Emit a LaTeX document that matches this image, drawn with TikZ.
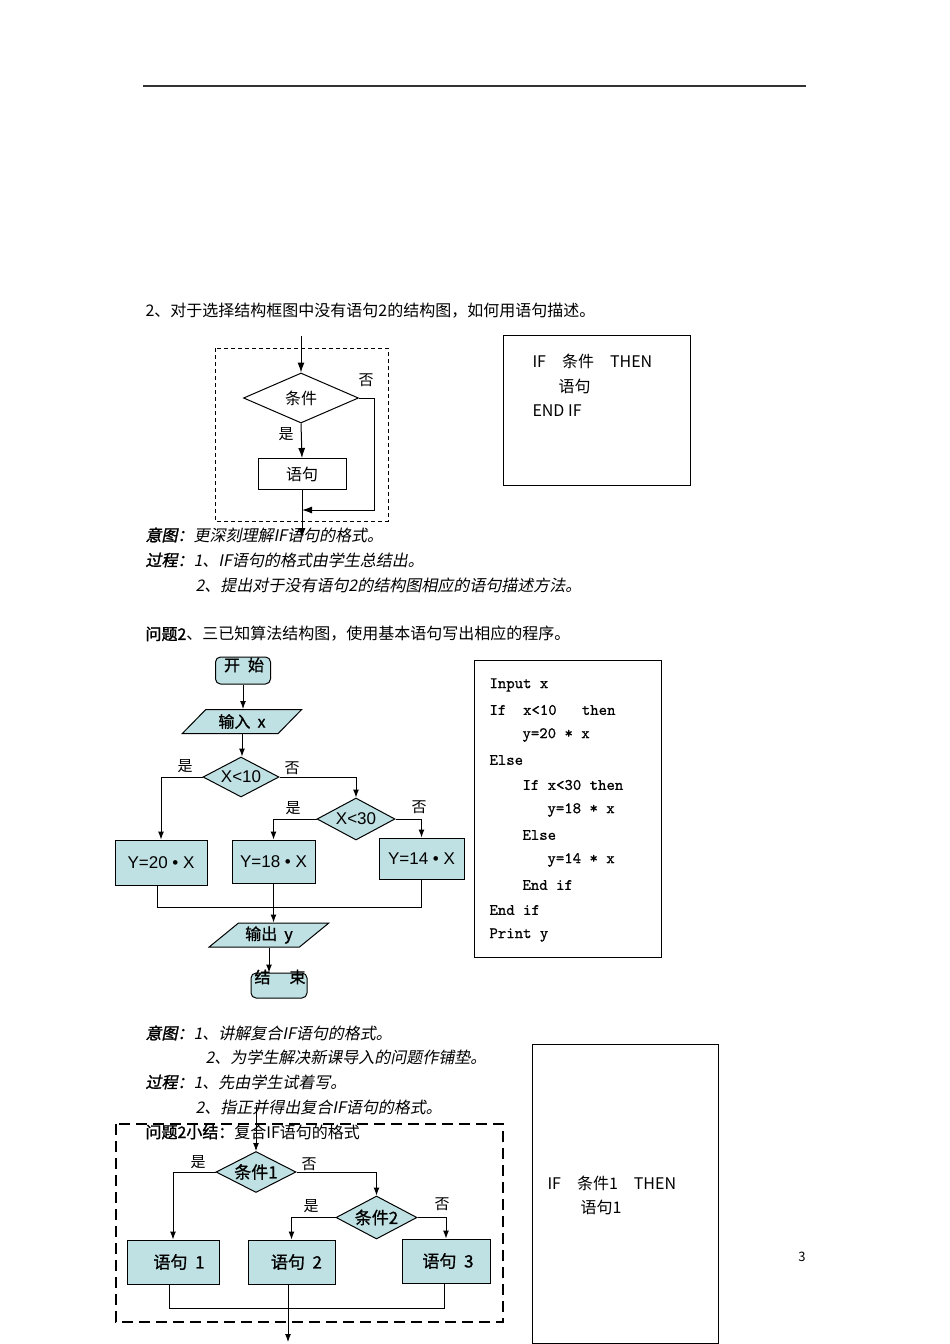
\documentclass[tikz,border=0pt]{standalone}
\usepackage{fontspec}
\setmainfont{Noto Sans CJK SC}
\newfontfamily\boldcjk[FakeBold=1.5]{Noto Sans CJK SC}
\newfontfamily\slantcjk[FakeSlant=0.2]{Noto Sans CJK SC}
\newfontfamily\slantboldcjk[FakeSlant=0.2,FakeBold=1.5]{Noto Sans CJK SC}
\newfontfamily\flowfont[FakeBold=1]{Noto Sans CJK SC}
\newfontfamily\labelfont{Liberation Sans}
\newfontfamily\codefont[FakeBold=0.7]{lmmono10-regular.otf}
\usetikzlibrary{arrows.meta,shapes.geometric}
\definecolor{boxteal}{RGB}{192,225,227}
\tikzset{every picture/.style={line width=1pt}}

\begin{document}
\begin{tikzpicture}[x=1pt,y=-1pt,>={Latex[length=8pt,width=6pt]},
  every node/.style={font=\fontsize{16}{19}\selectfont},
  line/.style={anchor=west,inner sep=0pt},
  tag/.style={inner sep=0pt,font=\fontsize{15}{18}\selectfont},
  plain/.style={draw,inner sep=0pt},
  proc/.style={draw,fill=boxteal,inner sep=0pt,
               font=\flowfont\fontsize{17}{20}\selectfont},
  cond/.style={diamond,draw,fill=boxteal,inner sep=0pt,aspect=2,
               font=\flowfont\fontsize{17}{20}\selectfont},
  io/.style={trapezium,draw,fill=boxteal,inner sep=0pt,
             trapezium stretches=true,minimum height=24,
             font=\flowfont\fontsize{16}{19}\selectfont},
  term/.style={draw,fill=boxteal,rounded corners=5pt,inner sep=0pt},
  codeline/.style={anchor=west,inner sep=0pt,
                   font=\codefont\fontsize{16}{18}\selectfont},
  bigtip/.style={->,>={Latex[length=10pt,width=7pt]}}]

  \fill[white] (0,0) rectangle (950,1344);
  \useasboundingbox (0,0) rectangle (950,1344);
  \draw[line width=1.2pt,black!80] (143,86) -- (806,86);

  % Selection without a second statement.
  \node[line] (head0) at (145,311)
    {2、对于选择结构框图中没有语句2的结构图，如何用语句描述。};
  \draw[line width=.8pt,dash pattern=on 4pt off 3pt] (215,348) rectangle (388,521);
  \node[diamond,draw,inner sep=0pt,minimum width=115,minimum height=50] (d0)
    at (301,398) {\raisebox{-3pt}{条件}};
  \node[plain,minimum width=88,minimum height=31] (s0) at (302,474) {语句};
  \node[tag] (no0) at (366,380) {否};
  \node[tag] (yes0) at (286,434) {是};
  \coordinate (in0) at (301,336);
  \coordinate (join0) at (302,510);
  \coordinate (out0) at (302,538);
  \draw[bigtip] (in0) -- (d0.north);
  \draw[bigtip] (d0.south) -- (s0.north);
  \draw[bigtip] (s0.south) -- (out0);
  \draw[bigtip] (d0.east) -- ++(15,0) |- (join0);

  \node[plain,minimum width=187,minimum height=150] (code0) at (597,410.5) {};
  \node[line] (if0) at (532,361) {IF\hspace{16pt}条件\hspace{16pt}THEN};
  \node[line] (st0) at (558,386) {语句};
  \node[line] (end0) at (532,411) {END IF};

  \node[line] (aim0) at (145,535)
    {{\slantboldcjk 意图：}{\slantcjk 更深刻理解IF语句的格式。}};
  \node[line] (proc0) at (145,560)
    {{\slantboldcjk 过程：}{\slantcjk 1、IF语句的格式由学生总结出。}};
  \node[line] (proc0b) at (195,585)
    {{\slantcjk 2、提出对于没有语句2的结构图相应的语句描述方法。}};

  % Nested selection for the piecewise function.
  \node[line] (ques2) at (145,634)
    {{\boldcjk 问题2}、三已知算法结构图，使用基本语句写出相应的程序。};
  \node[term,minimum width=55,minimum height=27] (start) at (243,670.5) {};
  \node[inner sep=0pt,font=\flowfont\fontsize{16}{19}\selectfont] (starttxt)
    at (244,665) {开\hspace{8pt}始};
  \node[io,trapezium left angle=44,trapezium right angle=136,
        minimum width=120] (inx) at (242,721.5) {输入\ \ x};
  \node[cond,minimum width=76,minimum height=40,
        font=\labelfont\fontsize{17}{20}\selectfont] (c10) at (241,777) {X<10};
  \node[cond,minimum width=78,minimum height=42,
        font=\labelfont\fontsize{17}{20}\selectfont] (c30) at (356,819) {X<30};
  \node[proc,minimum width=92,minimum height=45,
        font=\labelfont\fontsize{17}{20}\selectfont] (p1) at (161,862.5) {Y=20 • X};
  \node[proc,minimum width=83,minimum height=43,
        font=\labelfont\fontsize{17}{20}\selectfont] (p2) at (273.5,861.5) {Y=18 • X};
  \node[proc,minimum width=85,minimum height=41,
        font=\labelfont\fontsize{17}{20}\selectfont] (p3) at (421.5,858.5) {Y=14 • X};
  \node[io,trapezium left angle=37,trapezium right angle=143,
        minimum width=120] (outy) at (269,935) {输出\ \ y};
  \node[term,minimum width=56,minimum height=25] (stop) at (279,985.5) {};
  \node[inner sep=0pt,font=\flowfont\fontsize{16}{19}\selectfont] (stoptxt)
    at (280,977) {结\hspace{19pt}束};
  \node[tag] (y10) at (185,766) {是};
  \node[tag] (n10) at (292,768) {否};
  \node[tag] (y30) at (293,808) {是};
  \node[tag] (n30) at (419,807) {否};
  \coordinate (mrg0) at (272,907);
  \draw[->] (start.south) -- (start.south |- inx.north);
  \draw[->] (inx.south) -- (inx.south |- c10.north);
  \draw[->] (c10.west) -| (p1.north);
  \draw[->] (c10.east) -| (c30.north);
  \draw[->] (c30.west) -| (p2.north);
  \draw[->] (c30.east) -| (p3.north);
  \draw ([xshift=-4pt]p1.south) |- (mrg0) -| (p3.south);
  \draw[->] (p2.south) -- (p2.south |- outy.north);
  \draw[->] (outy.south) -- (outy.south |- stop.north);

  \node[plain,minimum width=187,minimum height=297] (code1) at (567.5,808.5) {};
  \foreach \cx/\cy/\ct [count=\ci] in {489/685/Input x,
      489/710/If\ \ x<10\ \ \ then, 522/735/y=20 * x, 489/760/Else,
      522/785/If x<30 then, 547/810/y=18 * x, 522/835/Else,
      547/860/y=14 * x, 522/885/End if, 489/910/End if, 489/935/Print y}
    \node[codeline] (cl\ci) at (\cx,\cy) {\ct};

  \node[line] (aim1) at (145,1033)
    {{\slantboldcjk 意图：}{\slantcjk 1、讲解复合IF语句的格式。}};
  \node[line] (aim1b) at (205,1057)
    {{\slantcjk 2、为学生解决新课导入的问题作铺垫。}};
  \node[line] (proc1) at (145,1082)
    {{\slantboldcjk 过程：}{\slantcjk 1、先由学生试着写。}};
  \node[line] (proc1b) at (195,1107)
    {{\slantcjk 2、指正并得出复合IF语句的格式。}};

  % Summary: the compound IF format.
  \draw[line width=2.2pt,dash pattern=on 11pt off 6pt] (116,1124) rectangle (503,1322);
  \node[line] (sum2) at (145,1132) {{\boldcjk 问题2小结：}复合IF语句的格式};
  \node[cond,minimum width=80,minimum height=41] (k1) at (256,1172) {条件1};
  \node[cond,minimum width=81,minimum height=43] (k2) at (376.5,1217.5) {条件2};
  \node[proc,minimum width=92,minimum height=44] (b1) at (173,1262)
    {\hspace*{12pt}语句\ \ 1};
  \node[proc,minimum width=87,minimum height=44] (b2) at (291.5,1262)
    {\raisebox{-5pt}{\hspace*{10pt}语句\ \ 2}};
  \node[proc,minimum width=88,minimum height=44] (b3) at (446,1261)
    {\hspace*{4pt}语句\ \ 3};
  \node[tag] (y1) at (198,1162) {是};
  \node[tag] (n1) at (309,1164) {否};
  \node[tag] (y2) at (311,1206) {是};
  \node[tag] (n2) at (442,1204) {否};
  \coordinate (in1) at (256,1105);
  \coordinate (mrg1) at (288,1308);
  \coordinate (out1) at (288,1342);
  \draw[->] (in1) -- (k1.north);
  \draw[->] (k1.west) -| (b1.north);
  \draw[->] (k1.east) -| (k2.north);
  \draw[->] (k2.west) -| (b2.north);
  \draw[->] (k2.east) -| (b3.north);
  \draw ([xshift=-4pt]b1.south) |- (mrg1) -| ([xshift=-2pt]b3.south);
  \draw[->] ([xshift=-3.5pt]b2.south) -- (out1);

  \node[plain,minimum width=186,minimum height=299] (code2) at (625,1193.5) {};
  \node[line] (if1) at (547,1183) {IF\hspace{16pt}条件1\hspace{16pt}THEN};
  \node[line] (st1) at (580,1207) {语句1};
  \node[inner sep=0pt,font=\fontsize{13}{15}\selectfont] (pg) at (802,1257) {3};
\end{tikzpicture}
\end{document}
